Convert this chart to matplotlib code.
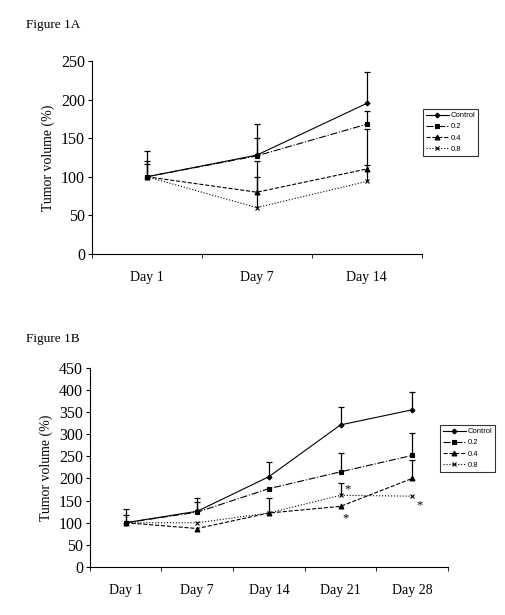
import numpy as np
import matplotlib.pyplot as plt

plt.rcParams['font.family'] = ['Liberation Serif', 'DejaVu Serif']

# Figure 1A data
days_a = ['Day 1', 'Day 7', 'Day 14']
ctrl_a = [100, 128, 195]
d02_a = [100, 127, 168]
d04_a = [100, 80, 110]
d08_a = [100, 60, 94]
ctrl_a_err = [33, 40, 40]
d02_a_err = [20, 23, 17]
d04_a_err = [16, 41, 52]
d08_a_err = [0, 40, 21]

# Figure 1B data
days_b = ['Day 1', 'Day 7', 'Day 14', 'Day 21', 'Day 28']
ctrl_b = [100, 126, 204, 321, 355]
d02_b = [100, 124, 177, 215, 252]
d04_b = [100, 87, 122, 137, 200]
d08_b = [100, 100, 122, 162, 160]
ctrl_b_err = [30, 29, 34, 41, 41]
d02_b_err = [18, 23, 0, 42, 50]
d04_b_err = [0, 0, 35, 0, 42]
d08_b_err = [0, 0, 0, 28, 0]

labels = ['Control', '0.2', '0.4', '0.8']
styles = [('-', 'D', 2.5), ('-.', 's', 3.5), ('--', '^', 3.5), (':', 'x', 3)]


def panel(ax, days, series, errs, ymax, step):
    x = np.arange(len(days))
    for (ls, mk, ms), y, e, lab in zip(styles, series, errs, labels):
        ax.plot(x, y, color='black', ls=ls, lw=0.8, marker=mk, ms=ms, mew=0.8,
                label=lab, zorder=3)
        y = np.array(y)
        e = np.array(e)
        m = e > 0
        top = y[m] + e[m]
        ax.vlines(x[m], y[m], top, color='black', lw=0.9)
        ax.plot(x[m], top, ls='none', marker='_', ms=4, mew=0.9, color='black')
    ax.set_xlim(-0.5, len(days) - 0.5)
    ax.set_ylim(0, ymax)
    ax.set_yticks(np.arange(0, ymax + 1, step))
    ax.set_xticks(x)
    ax.set_xticklabels(days)
    ax.set_xticks(np.arange(-0.5, len(days)), minor=True)
    ax.tick_params(axis='x', which='major', length=0, pad=12, labelsize=10)
    ax.tick_params(axis='x', which='minor', length=3)
    ax.tick_params(axis='y', length=3, labelsize=11.5, pad=2)
    for s in ['top', 'right']:
        ax.spines[s].set_visible(False)
    ax.set_ylabel('Tumor volume (%)', fontsize=10)
    leg = ax.legend(loc='upper left', frameon=True, fancybox=False, edgecolor='black',
                    prop={'family': 'Liberation Sans', 'size': 5.5}, handlelength=3,
                    borderpad=0.4, labelspacing=0.5, handletextpad=0.2)
    leg.get_frame().set_linewidth(0.8)
    return leg


fig = plt.figure(figsize=(5.05, 6.15), dpi=100)

ax1 = fig.add_axes([0.182, 0.587, 0.653, 0.314])
leg1 = panel(ax1, days_a, [ctrl_a, d02_a, d04_a, d08_a],
             [ctrl_a_err, d02_a_err, d04_a_err, d08_a_err], 250, 50)
leg1.set_bbox_to_anchor((419 / 505, 1 - 105 / 615), transform=fig.transFigure)

ax2 = fig.add_axes([0.178, 0.078, 0.709, 0.324])
leg2 = panel(ax2, days_b, [ctrl_b, d02_b, d04_b, d08_b],
             [ctrl_b_err, d02_b_err, d04_b_err, d08_b_err], 450, 50)
leg2.set_bbox_to_anchor((436 / 505, 1 - 421 / 615), transform=fig.transFigure)

# significance marks
ax2.text(3.1, 176, '*', fontsize=9, ha='center', va='center')
ax2.text(3.07, 110, '*', fontsize=9, ha='center', va='center')
ax2.text(4.1, 140, '*', fontsize=9, ha='center', va='center')

fig.text(26 / 505, 1 - 25 / 615, 'Figure 1A', fontsize=9.5, va='center')
fig.text(26 / 505, 1 - 339 / 615, 'Figure 1B', fontsize=9.5, va='center')

fig.savefig('out.png', dpi=100)
